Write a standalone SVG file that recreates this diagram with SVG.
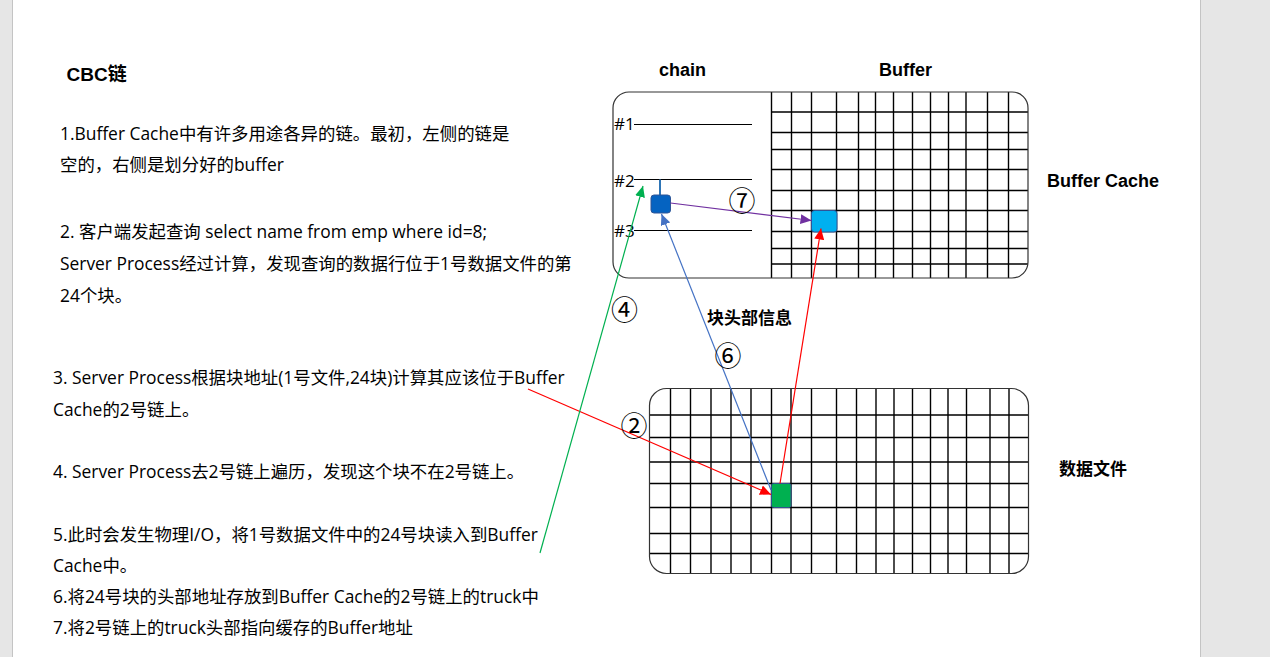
<svg xmlns="http://www.w3.org/2000/svg" width="1270" height="657" viewBox="0 0 1270 657">
<style>
.body{font-family:"Open Sans","Noto Sans CJK SC",sans-serif;font-size:17.4px;fill:#000}
.bold{font-family:"Liberation Sans","Noto Sans CJK SC",sans-serif;font-weight:bold;fill:#000}
.circ{font-family:"Noto Sans CJK SC",sans-serif;font-size:27px;fill:#000;text-anchor:middle}
.hash{font-family:"Open Sans","Noto Sans CJK SC",sans-serif;font-size:17px;fill:#000}
.grid{fill:none;stroke:#000;stroke-width:1.4}
.box{fill:none;stroke:#333;stroke-width:1.2}
.chainline{stroke:#000;stroke-width:1.2}
</style>
<defs>
<clipPath id="clipBC"><rect x="613" y="92" width="415" height="186" rx="16"/></clipPath>
<clipPath id="clipDF"><rect x="649.5" y="388.5" width="379" height="185" rx="17"/></clipPath>
<marker id="aRed" markerUnits="userSpaceOnUse" markerWidth="12" markerHeight="10" refX="11" refY="5" orient="auto"><path d="M0,0 L11,5 L0,10 Z" fill="#ff0000"/></marker>
<marker id="aBlue" markerUnits="userSpaceOnUse" markerWidth="12" markerHeight="10" refX="11" refY="5" orient="auto"><path d="M0,0 L11,5 L0,10 Z" fill="#4472c4"/></marker>
<marker id="aGreen" markerUnits="userSpaceOnUse" markerWidth="12" markerHeight="10" refX="11" refY="5" orient="auto"><path d="M0,0 L11,5 L0,10 Z" fill="#00b050"/></marker>
<marker id="aPurple" markerUnits="userSpaceOnUse" markerWidth="12" markerHeight="10" refX="11" refY="5" orient="auto"><path d="M0,0 L11,5 L0,10 Z" fill="#7030a0"/></marker>
</defs>

<rect x="0" y="0" width="1270" height="657" fill="#e6e6e6"/>
<rect x="12.5" y="-2" width="1188" height="662" fill="#ffffff" stroke="#c4c4c4" stroke-width="1"/>

<g id="text-panel">
<text class="bold" x="66.5" y="81" font-size="19">CBC链</text>
<text class="body" x="60" y="140">1.Buffer Cache中有许多用途各异的链。最初，左侧的链是</text>
<text class="body" x="60" y="171">空的，右侧是划分好的buffer</text>
<text class="body" x="60" y="238">2. 客户端发起查询 select name from emp where id=8;</text>
<text class="body" x="60" y="270">Server Process经过计算，发现查询的数据行位于1号数据文件的第</text>
<text class="body" x="60" y="302">24个块。</text>
<text class="body" x="53" y="384">3. Server Process根据块地址(1号文件,24块)计算其应该位于Buffer</text>
<text class="body" x="53" y="416">Cache的2号链上。</text>
<text class="body" x="53" y="478">4. Server Process去2号链上遍历，发现这个块不在2号链上。</text>
<text class="body" x="53" y="541">5.此时会发生物理I/O，将1号数据文件中的24号块读入到Buffer</text>
<text class="body" x="53" y="572">Cache中。</text>
<text class="body" x="53" y="603">6.将24号块的头部地址存放到Buffer Cache的2号链上的truck中</text>
<text class="body" x="53" y="634">7.将2号链上的truck头部指向缓存的Buffer地址</text>
</g>

<g id="labels">
<text class="bold" x="659" y="76" font-size="18">chain</text>
<text class="bold" x="879" y="76" font-size="18">Buffer</text>
<text class="bold" x="1047" y="187" font-size="18">Buffer Cache</text>
<text class="bold" x="1059" y="475" font-size="17">数据文件</text>
<text class="bold" x="707" y="324" font-size="17">块头部信息</text>
</g>

<g id="buffer-cache">
<g clip-path="url(#clipBC)">
<path class="grid" d="M771.5,92V278 M791.5,92V278 M811.5,92V278 M836.5,92V278 M858.5,92V278 M875.5,92V278 M893.5,92V278 M912.5,92V278 M930.5,92V278 M948.5,92V278 M966,92V278 M987.5,92V278 M1008.5,92V278 M771.5,112H1028 M771.5,132.5H1028 M771.5,149.5H1028 M771.5,169.5H1028 M771.5,190.5H1028 M771.5,210.5H1028 M771.5,231.5H1028 M771.5,248.5H1028 M771.5,264H1028"/>
</g>
<rect class="box" x="613" y="92" width="415" height="186" rx="16"/>
</g>

<g id="chains">
<text class="hash" x="614" y="130">#1</text>
<line class="chainline" x1="634" y1="124.5" x2="752" y2="124.5"/>
<text class="hash" x="614" y="186.5">#2</text>
<line class="chainline" x1="634" y1="179.5" x2="752" y2="179.5"/>
<text class="hash" x="614" y="236.5">#3</text>
<line class="chainline" x1="634" y1="230.5" x2="752" y2="230.5"/>
</g>

<g id="truck">
<line x1="660" y1="179.5" x2="660" y2="195" stroke="#2e75b6" stroke-width="2"/>
<rect x="651" y="195" width="19.5" height="18" rx="3" fill="#0563c1" stroke="#2f5597" stroke-width="1"/>
</g>

<g id="cached-buffer">
<rect x="811.5" y="210.5" width="25.5" height="21.5" rx="3" fill="#00b0f0" stroke="#2f5597" stroke-width="1"/>
</g>

<g id="data-file">
<g clip-path="url(#clipDF)">
<path class="grid" d="M670.5,388.5V573.5 M690.5,388.5V573.5 M711,388.5V573.5 M731,388.5V573.5 M751,388.5V573.5 M771.5,388.5V573.5 M791,388.5V573.5 M811.5,388.5V573.5 M836.5,388.5V573.5 M856.5,388.5V573.5 M876,388.5V573.5 M894,388.5V573.5 M912.5,388.5V573.5 M930.5,388.5V573.5 M948,388.5V573.5 M966.5,388.5V573.5 M990,388.5V573.5 M1009,388.5V573.5 M649.5,415H1028.5 M649.5,437.5H1028.5 M649.5,462H1028.5 M649.5,483.5H1028.5 M649.5,507.5H1028.5 M649.5,533.5H1028.5 M649.5,553.5H1028.5"/>
</g>
<rect class="box" x="649.5" y="388.5" width="379" height="185" rx="17"/>
</g>

<g id="block-24">
<rect x="771.5" y="483.5" width="19.5" height="24" rx="2" fill="#00b050" stroke="#2f528f" stroke-width="1"/>
</g>

<g id="connectors" fill="none" stroke-width="1.2">
<line x1="528" y1="389" x2="771" y2="494.5" stroke="#ff0000" marker-end="url(#aRed)"/>
<line x1="780" y1="483.5" x2="821" y2="228.5" stroke="#ff0000" marker-end="url(#aRed)"/>
<line x1="771" y1="490" x2="661.5" y2="214" stroke="#4472c4" marker-end="url(#aBlue)"/>
<line x1="540" y1="553" x2="643" y2="186" stroke="#00b050" marker-end="url(#aGreen)"/>
<line x1="670.5" y1="203" x2="811.5" y2="220.5" stroke="#7030a0" marker-end="url(#aPurple)"/>
</g>

<g id="step-numbers">
<text class="circ" x="624.5" y="319.5">④</text>
<text class="circ" x="728" y="365.5">⑥</text>
<text class="circ" x="634" y="435.5">②</text>
<text class="circ" x="742" y="210.5">⑦</text>
</g>
</svg>
